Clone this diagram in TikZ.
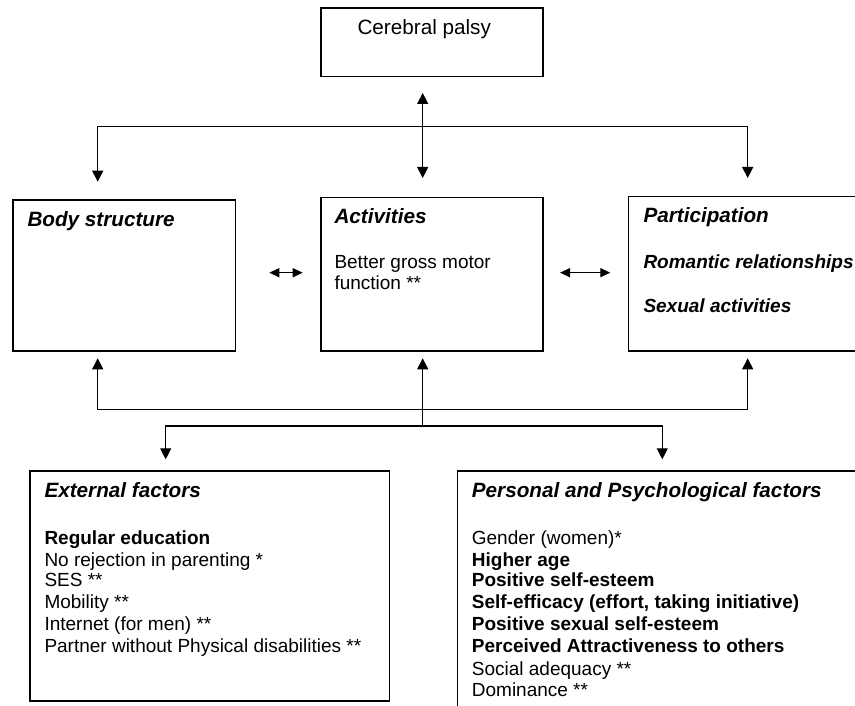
\documentclass[tikz,border=0pt]{standalone}
\usepackage{fontspec}
\setmainfont{Liberation Sans}
\usetikzlibrary{arrows.meta}
\begin{document}
\begin{tikzpicture}[x=1pt,y=-1pt,
  box/.style={draw=black,line width=1.5pt,anchor=north west,inner sep=0pt},
  conn/.style={line width=1.3pt},
  arr/.style={conn,-{Triangle[length=11pt,width=11pt]}},
  dbl/.style={conn,{Triangle[length=11pt,width=11pt]}-{Triangle[length=11pt,width=11pt]}},
  sdbl/.style={conn,{Triangle[length=10pt,width=9pt]}-{Triangle[length=10pt,width=9pt]}},
  head/.style={anchor=base west,inner sep=0pt,font=\fontsize{20.7pt}{24pt}\selectfont\bfseries\itshape},
  title/.style={anchor=base west,inner sep=0pt,font=\fontsize{20.7pt}{24pt}\selectfont},
  txt/.style={anchor=base west,inner sep=0pt,font=\fontsize{19pt}{22pt}\selectfont},
  btxt/.style={anchor=base west,inner sep=0pt,font=\fontsize{19pt}{22pt}\selectfont\bfseries},
  bitxt/.style={anchor=base west,inner sep=0pt,font=\fontsize{19pt}{22pt}\selectfont\bfseries\itshape}]
\useasboundingbox (0,0) rectangle (855,706);
\clip (0,0) rectangle (855,706);
\fill[white] (0,0) rectangle (855,706);

% boxes
\node[box,minimum width=222.3pt,minimum height=68.7pt] (cp) at (320,7.3) {};
\node[box,minimum width=222.7pt,minimum height=150.7pt] (bs) at (12,199.3) {};
\node[box,minimum width=222.3pt,minimum height=153.3pt] (ac) at (320,196.7) {};
\node[box,minimum width=260pt,minimum height=154.3pt] (pa) at (627.7,195.7) {};
\node[box,minimum width=359.4pt,minimum height=230pt] (ex) at (29.3,470) {};
\node[box,minimum width=430pt,minimum height=270pt] (pe) at (456.7,470) {};

% texts
\node[title] (cpt) at (357.3,34.3) {Cerebral palsy};
\node[head] (bst) at (27.3,226.7) {Body structure};
\node[head] (act) at (334.3,223.3) {Activities};
\node[txt] (ac1) at (334.3,268.3) {Better gross motor};
\node[txt] (ac2) at (334.3,289.3) {function **};
\node[head] (pat) at (643.3,222.7) {Participation};
\node[bitxt] (pa1) at (643.3,268.3) {Romantic relationships};
\node[bitxt] (pa2) at (643.3,312.7) {Sexual activities};

\node[head] (ext) at (44.3,497.3) {External factors};
\node[btxt] (ex1) at (44.3,544) {Regular education};
\node[txt] (ex2) at (44.3,566) {No rejection in parenting *};
\node[txt] (ex3) at (44.3,586.7) {SES **};
\node[txt] (ex4) at (44.3,608.3) {Mobility **};
\node[txt] (ex5) at (44.3,630.7) {Internet (for men) **};
\node[txt] (ex6) at (44.3,652.7) {Partner without Physical disabilities **};

\node[head] (pet) at (471.7,497.3) {Personal and Psychological factors};
\node[txt] (pe1) at (471.7,544) {Gender (women)*};
\node[btxt] (pe2) at (471.7,566) {Higher age};
\node[btxt] (pe3) at (471.7,586.7) {Positive self-esteem};
\node[btxt] (pe4) at (471.7,608.3) {Self-efficacy (effort, taking initiative)};
\node[btxt] (pe5) at (471.7,630.7) {Positive sexual self-esteem};
\node[btxt] (pe6) at (471.7,652.7) {Perceived Attractiveness to others};
\node[txt] (pe7) at (471.7,675) {Social adequacy **};
\node[txt] (pe8) at (471.7,696.7) {Dominance **};

% connector points (top)
\coordinate (cpTip) at (422.7,93);
\coordinate (lT) at (97.7,126.7);
\coordinate (rT) at (747.7,126.7);
\coordinate (bsTip) at (97.7,181.7);
\coordinate (acTip) at (422.7,178);
\coordinate (paTip) at (747.7,178);
% connector points (bottom)
\coordinate (bsUp) at (97.7,358.3);
\coordinate (acUp) at (422.7,358.3);
\coordinate (paUp) at (747.7,358.3);
\coordinate (lB) at (97.7,409.3);
\coordinate (rB) at (747.7,409.3);
\coordinate (hub2) at (422.7,426);
\coordinate (l2) at (165.7,426);
\coordinate (r2) at (662.3,426);
\coordinate (exTip) at (165.7,459.3);
\coordinate (peTip) at (662.3,459.3);
% double arrows
\coordinate (dl1) at (269.3,272.7);
\coordinate (dl2) at (302.7,272.7);
\coordinate (dr1) at (560,272.7);
\coordinate (dr2) at (610.3,272.7);

% top connectors
\draw[dbl] (cpTip) -- (acTip);
\draw[arr] (rT) -- (lT) -- (bsTip);
\draw[arr] (lT) -- (rT) -- (paTip);
% side double arrows
\draw[sdbl] (dl1) -- (dl2);
\draw[sdbl] (dr1) -- (dr2);
% bottom connectors
\draw[arr] (rB) -- (lB) -- (bsUp);
\draw[arr] (lB) -- (rB) -- (paUp);
\draw[arr] (hub2) -- (acUp);
\draw[arr] (r2) -- (l2) -- (exTip);
\draw[arr] (l2) -- (r2) -- (peTip);
\end{tikzpicture}
\end{document}
